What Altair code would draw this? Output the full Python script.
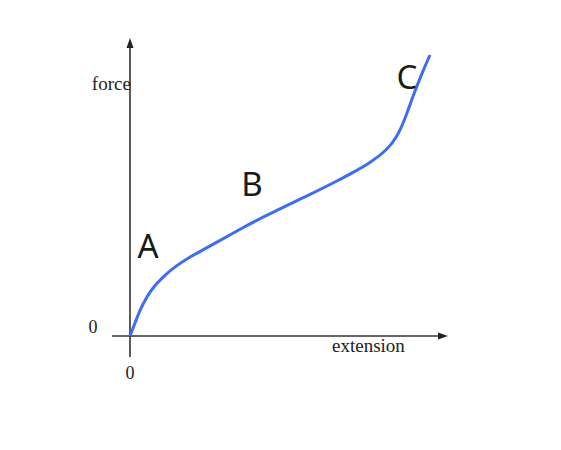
import altair as alt
import pandas as pd

# Curve (extension, force) in arbitrary units
curve_x = [0, 0.167, 0.333, 0.557, 0.833, 1.167, 1.5, 1.933, 2.39, 2.833, 3.667, 4.333,
           5.0, 5.667, 6.333, 7.0, 7.333, 8.0, 8.567, 8.9, 9.167, 9.433, 9.733, 10.0]
curve_y = [0, 0.463, 0.925, 1.399, 1.815, 2.171, 2.466, 2.776, 3.04, 3.30, 3.80, 4.18,
           4.52, 4.87, 5.21, 5.57, 5.765, 6.157, 6.619, 7.082, 7.722, 8.541, 9.359, 10.0]

# Region letters
region_labels = ["A", "B", "C"]
region_x = [0.6, 4.067, 9.233]
region_y = [3.13, 5.34, 9.146]

# Axis extents
x_axis_range = [-0.6, 10.433]
y_axis_range = [-0.747, 10.43]

XS = alt.Scale(domain=[-4.0667, 14.1], nice=False, zero=False)
YS = alt.Scale(domain=[-3.772, 11.673], nice=False, zero=False)


def X(field="x"):
    return alt.X(field, type="quantitative", scale=XS, axis=None)


def Y(field="y"):
    return alt.Y(field, type="quantitative", scale=YS, axis=None)


curve_df = pd.DataFrame({"x": curve_x, "y": curve_y})
line = alt.Chart(curve_df).mark_line(
    color="#3d6ef2", strokeWidth=3, interpolate="basis"
).encode(x=X(), y=Y())

vaxis = alt.Chart(pd.DataFrame({"x": [0], "y": [y_axis_range[0]], "y2": [y_axis_range[1]]})).mark_rule(
    color="#333333", strokeWidth=1.6
).encode(x=X(), y=Y(), y2="y2:Q")

haxis = alt.Chart(pd.DataFrame({"x": [x_axis_range[0]], "x2": [x_axis_range[1]], "y": [0]})).mark_rule(
    color="#333333", strokeWidth=1.6
).encode(x=X(), x2="x2:Q", y=Y())

up_arrow = alt.Chart(pd.DataFrame({"x": [0], "y": [y_axis_range[1]]})).mark_point(
    shape="M0,-1L0.7,1L-0.7,1Z", filled=True, size=100, color="#222222", opacity=1
).encode(x=X(), y=Y())

right_arrow = alt.Chart(pd.DataFrame({"x": [x_axis_range[1]], "y": [0]})).mark_point(
    shape="M1,0L-1,0.7L-1,-0.7Z", filled=True, size=100, color="#222222", opacity=1
).encode(x=X(), y=Y())

force_lbl = alt.Chart(pd.DataFrame({"x": [0.03], "y": [8.75], "t": ["force"]})).mark_text(
    font="Liberation Serif", fontSize=19, align="right", baseline="alphabetic", color="#222222"
).encode(x=X(), y=Y(), text="t:N")

ext_lbl = alt.Chart(pd.DataFrame({"x": [6.733], "y": [-0.356], "t": ["extension"]})).mark_text(
    font="Liberation Serif", fontSize=19, align="left", baseline="middle", color="#222222"
).encode(x=X(), y=Y(), text="t:N")

zero_lbl = alt.Chart(pd.DataFrame({"x": [-1.233, 0], "y": [0.30, -1.335], "t": ["0", "0"]})).mark_text(
    font="Liberation Serif", fontSize=18, align="center", baseline="middle", color="#222222"
).encode(x=X(), y=Y(), text="t:N")

letters = alt.Chart(pd.DataFrame({"x": region_x, "y": region_y, "t": region_labels})).mark_text(
    font="Noto Sans", fontSize=33, align="center", baseline="middle", color="#1a1a1a"
).encode(x=X(), y=Y(), text="t:N")

chart = alt.layer(
    haxis, vaxis, up_arrow, right_arrow, line, force_lbl, ext_lbl, zero_lbl, letters
).properties(
    width=545, height=434, padding=0, background="white",
    autosize=alt.AutoSizeParams(type="none")
).configure_view(stroke=None, strokeWidth=0)

chart.save("out.html", embed_options={"renderer": "svg", "actions": False})
